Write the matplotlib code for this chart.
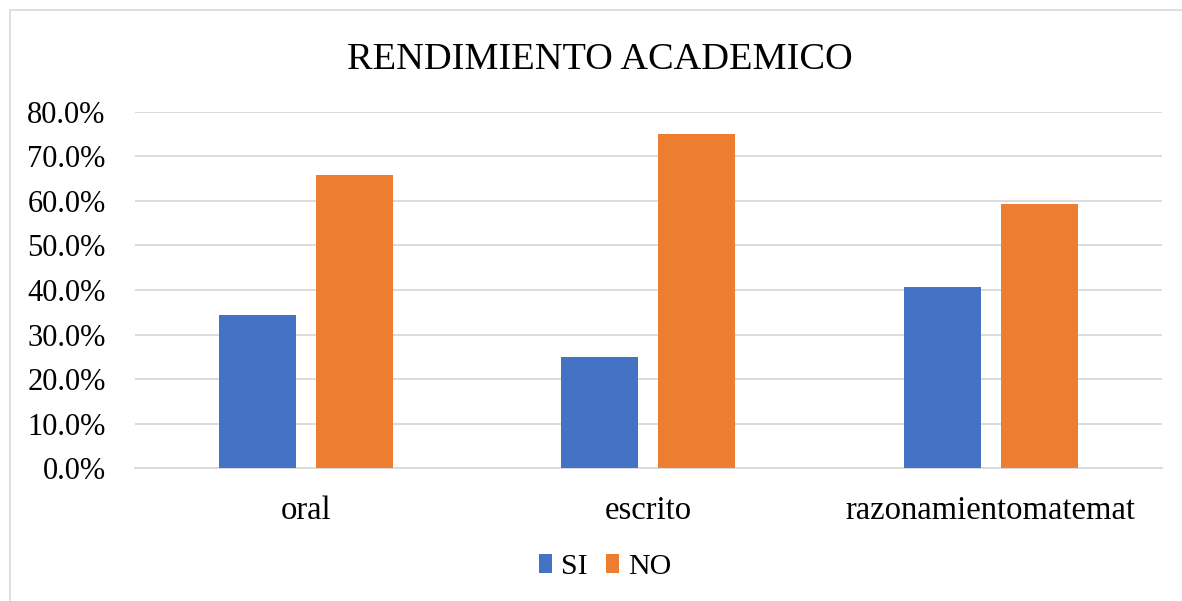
import numpy as np
import matplotlib.pyplot as plt
from matplotlib.patches import Rectangle
from matplotlib.ticker import FuncFormatter

categories = ["oral", "escrito", "razonamientomatemat"]
si_vals = [34.3, 25.0, 40.6]
no_vals = [65.7, 75.0, 59.4]
series_names = ["SI", "NO"]

plt.rcParams['font.family'] = ['Liberation Serif', 'DejaVu Serif']

fig = plt.figure(figsize=(11.82, 6.01), dpi=100)
ax = fig.add_axes([0.114, 0.221, 0.869, 0.593])

# chart border (Excel-like)
fig.patches.append(Rectangle((10 / 1182, -0.01), 1.0, 1 - 10 / 601 + 0.01,
                             transform=fig.transFigure, fill=False,
                             edgecolor='#d9d9d9', linewidth=1.2))

x = np.arange(len(categories))
w = 0.225
off = 0.142
ax.bar(x - off, si_vals, w, color='#4472c4', label=series_names[0], zorder=3)
ax.bar(x + off, no_vals, w, color='#ed7d31', label=series_names[1], zorder=3)

ax.set_xlim(-0.5, 2.5)
ax.set_ylim(0, 80)
ax.set_yticks(np.arange(0, 81, 10))
ax.yaxis.set_major_formatter(FuncFormatter(lambda v, p: f"{v:.1f}%"))
ax.grid(axis='y', color='#d9d9d9', linewidth=1.3, zorder=0)
for s in ['top', 'right', 'left']:
    ax.spines[s].set_visible(False)
ax.spines['bottom'].set_color('#d9d9d9')
ax.spines['bottom'].set_linewidth(1.3)
ax.tick_params(axis='both', length=0, colors='black')
ax.tick_params(axis='x', pad=20, labelsize=23.5)
ax.tick_params(axis='y', pad=21, labelsize=22)
ax.set_xticks(x)
ax.set_xticklabels(categories)

fig.text(0.5076, 0.9, "RENDIMIENTO ACADEMICO", ha='center', va='center', fontsize=27.6)

fig.legend(loc='center', bbox_to_anchor=(0.512, 0.056), ncol=2, frameon=False,
           fontsize=21.5, handlelength=0.45, handleheight=0.6, handletextpad=0.3,
           columnspacing=0.6)

fig.savefig("out.png", dpi=100)
